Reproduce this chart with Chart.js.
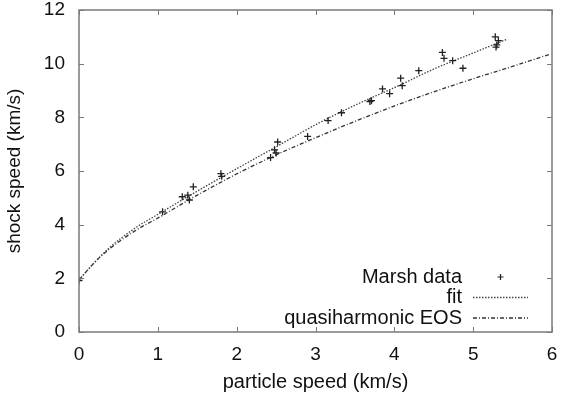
<!DOCTYPE html>
<html>
<head>
<meta charset="utf-8">
<script src="https://cdn.jsdelivr.net/npm/chart.js@4.4.0/dist/chart.umd.min.js"></script>
<style>
  html, body { margin: 0; padding: 0; background: #fff; }
  #wrap { width: 562px; height: 398px; }
</style>
</head>
<body>
<div id="wrap"><canvas id="c" width="562" height="398"></canvas></div>
<script>
// Marsh data (particle speed, shock speed) in km/s
const marshX = [0.00, 1.06, 1.31, 1.38, 1.40, 1.45, 1.80, 1.81, 2.43, 2.48, 2.50, 2.52, 2.90, 3.16, 3.33, 3.69, 3.71, 3.85, 3.94, 4.08, 4.10, 4.31, 4.61, 4.63, 4.74, 4.87, 5.28, 5.32, 5.30, 5.29];
const marshY = [1.92, 4.48, 5.04, 5.10, 4.92, 5.41, 5.90, 5.80, 6.50, 6.79, 6.67, 7.08, 7.29, 7.88, 8.17, 8.59, 8.62, 9.06, 8.88, 9.46, 9.18, 9.74, 10.42, 10.20, 10.11, 9.83, 11.00, 10.86, 10.70, 10.62];

// fit curve
const fitX = [0.00, 0.20, 0.39, 0.70, 1.02, 1.50, 2.04, 2.50, 3.05, 3.50, 4.07, 4.50, 4.96, 5.21, 5.42];
const fitY = [1.94, 2.60, 3.15, 3.85, 4.42, 5.25, 6.15, 6.90, 7.80, 8.45, 9.20, 9.80, 10.35, 10.65, 10.90];

// quasiharmonic EOS curve
const qhX = [0.00, 0.20, 0.39, 0.70, 1.02, 1.50, 2.04, 2.50, 3.05, 3.50, 4.07, 4.50, 4.96, 5.50, 5.97];
const qhY = [1.94, 2.60, 3.10, 3.75, 4.28, 5.10, 5.95, 6.60, 7.30, 7.85, 8.50, 8.95, 9.40, 9.90, 10.35];

const xTicks = [0, 1, 2, 3, 4, 5, 6];
const yTicks = [0, 2, 4, 6, 8, 10, 12];

const labels = ['Marsh data', 'fit', 'quasiharmonic EOS'];
const xTitle = 'particle speed (km/s)';
const yTitle = 'shock speed (km/s)';

const zip = (xs, ys) => xs.map((x, i) => ({ x: x, y: ys[i] }));

const FONT = 'Liberation Sans, Arial, Helvetica, sans-serif';
const TEXT = '#111';
const FRAME = '#7a7a7a';

const framePlugin = {
  id: 'frameTicks',
  afterDraw(chart) {
    const ctx = chart.ctx;
    const a = chart.chartArea;
    const xs = chart.scales.x, ys = chart.scales.y;
    ctx.save();
    ctx.strokeStyle = FRAME;
    ctx.lineWidth = 1.5;
    ctx.strokeRect(a.left, a.top, a.right - a.left, a.bottom - a.top);
    ctx.lineWidth = 1;
    const L = 5;
    ctx.beginPath();
    xTicks.forEach(v => {
      const p = Math.round(xs.getPixelForValue(v)) + 0.5;
      ctx.moveTo(p, a.bottom); ctx.lineTo(p, a.bottom - L);
      ctx.moveTo(p, a.top); ctx.lineTo(p, a.top + L);
    });
    yTicks.forEach(v => {
      const p = Math.round(ys.getPixelForValue(v)) + 0.5;
      ctx.moveTo(a.left, p); ctx.lineTo(a.left + L, p);
      ctx.moveTo(a.right, p); ctx.lineTo(a.right - L, p);
    });
    ctx.stroke();

    // legend (text right-aligned, sample to the right), gnuplot style
    const textRight = a.right - 90;
    const s0 = a.right - 79, s1 = a.right - 24;
    const rows = [a.bottom - 55, a.bottom - 34.5, a.bottom - 14];
    ctx.font = '20px ' + FONT;
    ctx.fillStyle = TEXT;
    ctx.textAlign = 'right';
    ctx.textBaseline = 'middle';
    chart.data.datasets.forEach((ds, i) => {
      const y = rows[i];
      ctx.fillText(ds.label, textRight, y);
      if (i === 0) {
        const cx = (s0 + s1) / 2;
        ctx.strokeStyle = ds.borderColor;
        ctx.lineWidth = 1.2;
        ctx.setLineDash([]);
        ctx.beginPath();
        ctx.moveTo(cx - 3, y); ctx.lineTo(cx + 3, y);
        ctx.moveTo(cx, y - 3); ctx.lineTo(cx, y + 3);
        ctx.stroke();
      } else {
        ctx.strokeStyle = ds.borderColor;
        ctx.lineWidth = ds.borderWidth;
        ctx.setLineDash(ds.borderDash || []);
        ctx.beginPath();
        ctx.moveTo(s0, y); ctx.lineTo(s1, y);
        ctx.stroke();
        ctx.setLineDash([]);
      }
    });
    ctx.restore();
  }
};

new Chart(document.getElementById('c'), {
  type: 'scatter',
  data: {
    datasets: [
      {
        label: labels[0],
        data: zip(marshX, marshY),
        showLine: false,
        pointStyle: 'cross',
        pointRadius: 3.5,
        pointBorderWidth: 1.3,
        borderColor: '#222',
        backgroundColor: '#222'
      },
      {
        label: labels[1],
        data: zip(fitX, fitY),
        showLine: true,
        pointRadius: 0,
        borderColor: '#444',
        borderWidth: 1.3,
        borderDash: [1.5, 1.5],
        cubicInterpolationMode: 'monotone',
        fill: false
      },
      {
        label: labels[2],
        data: zip(qhX, qhY),
        showLine: true,
        pointRadius: 0,
        borderColor: '#333',
        borderWidth: 1.3,
        borderDash: [4, 2, 1, 2],
        cubicInterpolationMode: 'monotone',
        fill: false
      }
    ]
  },
  options: {
    responsive: false,
    animation: false,
    devicePixelRatio: 1,
    layout: { padding: { top: 10, right: 10, left: 0, bottom: 0 } },
    plugins: {
      legend: { display: false },
      tooltip: { enabled: false }
    },
    scales: {
      x: {
        type: 'linear',
        min: 0, max: 6,
        afterBuildTicks: s => { s.ticks = xTicks.map(v => ({ value: v })); },
        afterFit: s => { s.height = 66; s.paddingLeft = 0; s.paddingRight = 0; },
        grid: { display: false, drawTicks: false },
        border: { display: false },
        ticks: { color: TEXT, font: { family: FONT, size: 19 }, padding: 11, maxRotation: 0 },
        title: { display: true, text: xTitle, color: TEXT, font: { family: FONT, size: 20 }, padding: { top: 0, bottom: 4 } }
      },
      y: {
        type: 'linear',
        min: 0, max: 12,
        afterBuildTicks: s => { s.ticks = yTicks.map(v => ({ value: v })); },
        afterFit: s => { s.width = 79; s.paddingTop = 0; s.paddingBottom = 0; },
        grid: { display: false, drawTicks: false },
        border: { display: false },
        ticks: { color: TEXT, font: { family: FONT, size: 19 }, padding: 14 },
        title: { display: true, text: yTitle, color: TEXT, font: { family: FONT, size: 19 }, padding: { top: 3, bottom: 0 } }
      }
    }
  },
  plugins: [framePlugin]
});
</script>
</body>
</html>
